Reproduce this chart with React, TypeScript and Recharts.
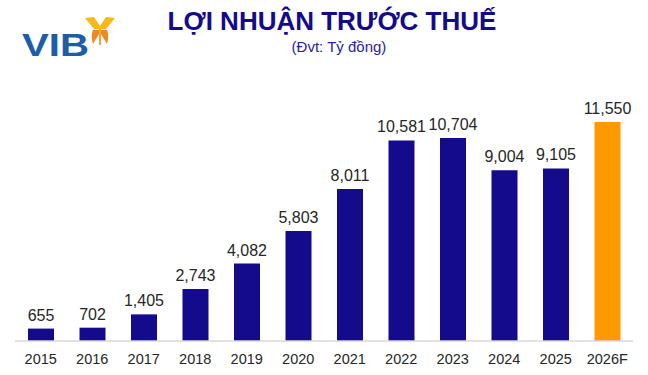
import { Bar, BarChart, Cell, LabelList, XAxis, YAxis } from 'recharts'

const years = ['2015', '2016', '2017', '2018', '2019', '2020', '2021', '2022', '2023', '2024', '2025', '2026F']
const profit = [655, 702, 1405, 2743, 4082, 5803, 8011, 10581, 10704, 9004, 9105, 11550]
const forecast = [false, false, false, false, false, false, false, false, false, false, false, true]

const NAVY = '#140A8C'
const ORANGE = '#FF9900'
const FONT = 'Arial, "Liberation Sans", sans-serif'

const data = years.map((year, i) => ({ year, value: profit[i], forecast: forecast[i] }))

// VIB logo: wordmark + butterfly
function Logo() {
  return (
    <svg width={100} height={50} style={{ position: 'absolute', left: 20, top: 12 }} viewBox="0 0 100 50">
      <text
        x={2}
        y={44}
        textLength={67}
        lengthAdjust="spacingAndGlyphs"
        style={{ fontFamily: FONT, fontWeight: 700, fontSize: 31, fill: '#1B5DAA' }}
      >
        VIB
      </text>
      <g transform="translate(65,5)">
        <path d="M0 1 L9 0 L15 9 L15 12 L9 12 Z" fill="#F9B71A" />
        <path d="M30 1 L21 0 L15 9 L15 12 L21 12 Z" fill="#F9B71A" />
        <path d="M14 13 L8 13 C6 18 7 23 8 27 L14 17 Z" fill="#F08A1C" />
        <path d="M16 13 L22 13 C24 18 23 23 22 27 L16 17 Z" fill="#F08A1C" />
        <rect x={14.2} y={12} width={1.6} height={16} fill="#F08A1C" />
      </g>
    </svg>
  )
}

export default function App() {
  return (
    <div
      style={{
        position: 'absolute',
        left: 0,
        top: 0,
        width: 648,
        height: 375,
        background: '#fff',
        fontFamily: FONT,
        overflow: 'hidden',
      }}
    >
      <Logo />
      <div
        style={{
          position: 'absolute',
          left: 0,
          width: 664,
          top: 6,
          textAlign: 'center',
          fontWeight: 700,
          fontSize: 26,
          color: NAVY,
          lineHeight: '30px',
        }}
      >
        LỢI NHUẬN TRƯỚC THUẾ
      </div>
      <div
        style={{
          position: 'absolute',
          left: 0,
          width: 678,
          top: 38,
          textAlign: 'center',
          fontSize: 15,
          color: '#2B22A0',
          lineHeight: '18px',
        }}
      >
        (Đvt: Tỷ đồng)
      </div>
      <div style={{ position: 'absolute', left: 0, top: 0 }}>
        <BarChart
          width={648}
          height={375}
          data={data}
          margin={{ top: 113.5, right: 15, bottom: 0, left: 15 }}
          barSize={26}
        >
          <XAxis
            dataKey="year"
            interval={0}
            height={34}
            axisLine={{ stroke: '#D9D9D9', strokeWidth: 1.5 }}
            tickLine={false}
            tickMargin={7}
            tick={{ fontSize: 14.5, fill: '#262626', fontFamily: FONT }}
          />
          <YAxis hide domain={[0, 12000]} />
          <Bar dataKey="value" isAnimationActive={false}>
            {data.map((d, i) => (
              <Cell key={i} fill={d.forecast ? ORANGE : NAVY} />
            ))}
            <LabelList
              dataKey="value"
              position="top"
              offset={8}
              formatter={(v: any) => Number(v).toLocaleString('en-US')}
              style={{ fontSize: 16, fill: '#262626', fontFamily: FONT }}
            />
          </Bar>
        </BarChart>
      </div>
    </div>
  )
}
